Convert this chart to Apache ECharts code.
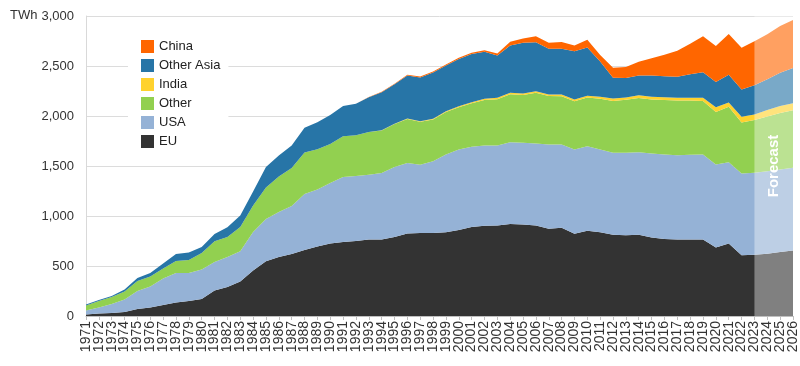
<!DOCTYPE html>
<html>
<head>
<meta charset="utf-8">
<script src="https://cdn.jsdelivr.net/npm/echarts@6/dist/echarts.min.js"></script>
<style>
html,body{margin:0;padding:0;background:#fff;}
#chart{width:800px;height:366px;}
</style>
</head>
<body>
<div id="chart"></div>
<script>
const years = ['1971','1972','1973','1974','1975','1976','1977','1978','1979','1980',
  '1981','1982','1983','1984','1985','1986','1987','1988','1989','1990',
  '1991','1992','1993','1994','1995','1996','1997','1998','1999','2000',
  '2001','2002','2003','2004','2005','2006','2007','2008','2009','2010',
  '2011','2012','2013','2014','2015','2016','2017','2018','2019','2020',
  '2021','2022','2023','2024','2025','2026'];

const EU = [15,25,30,40,70,85,110,135,150,170,
  255,290,345,455,548,590,620,660,695,725,
  740,750,765,765,790,825,830,830,838,860,
  890,903,906,920,915,906,872,882,822,852,
  838,813,808,812,785,770,765,765,765,686,
  724,608,613,623,639,655];
const USA = [40,60,90,125,180,210,265,295,280,295,
  285,300,303,385,422,450,480,560,570,605,
  650,650,648,665,700,705,682,718,777,805,
  802,802,799,818,817,819,843,833,843,846,
  827,819,824,826,840,845,843,847,850,829,
  814,817,819,825,826,827];
const Other = [50,65,70,80,100,100,100,120,130,165,
  208,200,242,265,315,355,380,414,403,390,
  407,407,427,425,430,440,430,417,425,423,
  436,455,463,480,478,507,485,483,483,487,
  507,518,531,542,540,545,547,543,535,525,
  554,510,528,547,565,576];
const India = [0,0,0,0,0,0,0,0,0,0,
  0,0,0,0,0,0,0,0,0,0,
  0,0,0,2,3,5,5,7,8,10,
  10,12,14,14,15,16,15,17,17,17,
  20,25,22,28,27,28,28,28,32,48,
  43,57,55,65,70,70];
const OtherAsia = [10,10,10,20,30,35,50,70,75,60,
  72,98,115,140,205,210,225,248,270,290,
  303,315,348,380,395,430,438,463,457,472,
  482,470,423,473,507,490,457,457,483,483,
  353,207,195,197,213,210,209,235,256,252,
  277,273,293,308,332,352];
const China = [0,0,0,0,0,0,0,0,0,0,
  0,0,0,0,0,0,0,0,0,0,
  0,1,2,5,5,7,10,11,10,12,
  12,15,20,37,43,60,60,68,57,77,
  65,100,110,138,172,214,260,304,360,360,
  408,417,440,450,468,480];

const yTicks = [0,500,1000,1500,2000,2500,3000];
const forecastStart = '2023';
const forecastEnd = '2026';
const unitLabel = 'TWh';

const colors = {
  EU:'#333333', USA:'#95B2D6', Other:'#92D050', India:'#FFD22E', 'Other Asia':'#2775A7', China:'#FF6600'
};

const font = 'Liberation Sans, Arial, sans-serif';

function areaSeries(name, data){
  return {
    name: name, type:'line', stack:'total', data: data,
    symbol:'none', showSymbol:false, smooth:false,
    lineStyle:{width:0}, areaStyle:{color:colors[name], opacity:1},
    itemStyle:{color:colors[name]},
    emphasis:{disabled:true}, animation:false
  };
}

const chart = echarts.init(document.getElementById('chart'), null, {renderer:'canvas'});
chart.setOption({
  animation:false,
  backgroundColor:'#ffffff',
  grid:{left:86, right:6, top:16, bottom:50, containLabel:false},
  graphic:[{
    type:'text', left:10, top:9,
    style:{text:unitLabel, fontFamily:font, fontSize:13, fill:'#333'}
  }],
  legend:{
    data:['China','Other Asia','India','Other','USA','EU'],
    orient:'vertical', left:128, top:35,
    itemWidth:13, itemHeight:13, itemGap:6,
    icon:'rect', backgroundColor:'#ffffff',
    padding:[5,8,6,13],
    textStyle:{fontFamily:font, fontSize:13, color:'#222'},
    selectedMode:false
  },
  xAxis:{
    type:'category', data:years, boundaryGap:false,
    axisLine:{show:true, lineStyle:{color:'#bfbfbf'}},
    axisTick:{show:true, alignWithLabel:true, length:4, interval:0, lineStyle:{color:'#bfbfbf'}},
    axisLabel:{interval:0, rotate:90, fontFamily:font, fontSize:14, color:'#333', margin:5},
    splitLine:{show:false}
  },
  yAxis:{
    type:'value', min:0, max:3000, interval:500,
    axisLine:{show:true, lineStyle:{color:'#d9d9d9'}},
    axisTick:{show:false},
    axisLabel:{fontFamily:font, fontSize:13, color:'#333', margin:12,
      formatter:function(v){return v.toLocaleString('en-US');}},
    splitLine:{show:true, lineStyle:{color:'#dcdcdc', width:1}}
  },
  series:[
    areaSeries('EU', EU),
    areaSeries('USA', USA),
    areaSeries('Other', Other),
    areaSeries('India', India),
    areaSeries('Other Asia', OtherAsia),
    areaSeries('China', China),
    {
      name:'forecast', type:'line', data:years.map(function(){return null;}), z:10, silent:true,
      symbol:'none', lineStyle:{width:0},
      markArea:{
        silent:true, z:20,
        itemStyle:{color:'rgba(255,255,255,0.38)'},
        label:{show:true, position:'inside', rotate:90, formatter:'Forecast',
          color:'#ffffff', fontFamily:font, fontSize:15, fontWeight:'bold'},
        data:[[{xAxis:forecastStart},{xAxis:forecastEnd}]]
      }
    }
  ]
});
</script>
</body>
</html>
